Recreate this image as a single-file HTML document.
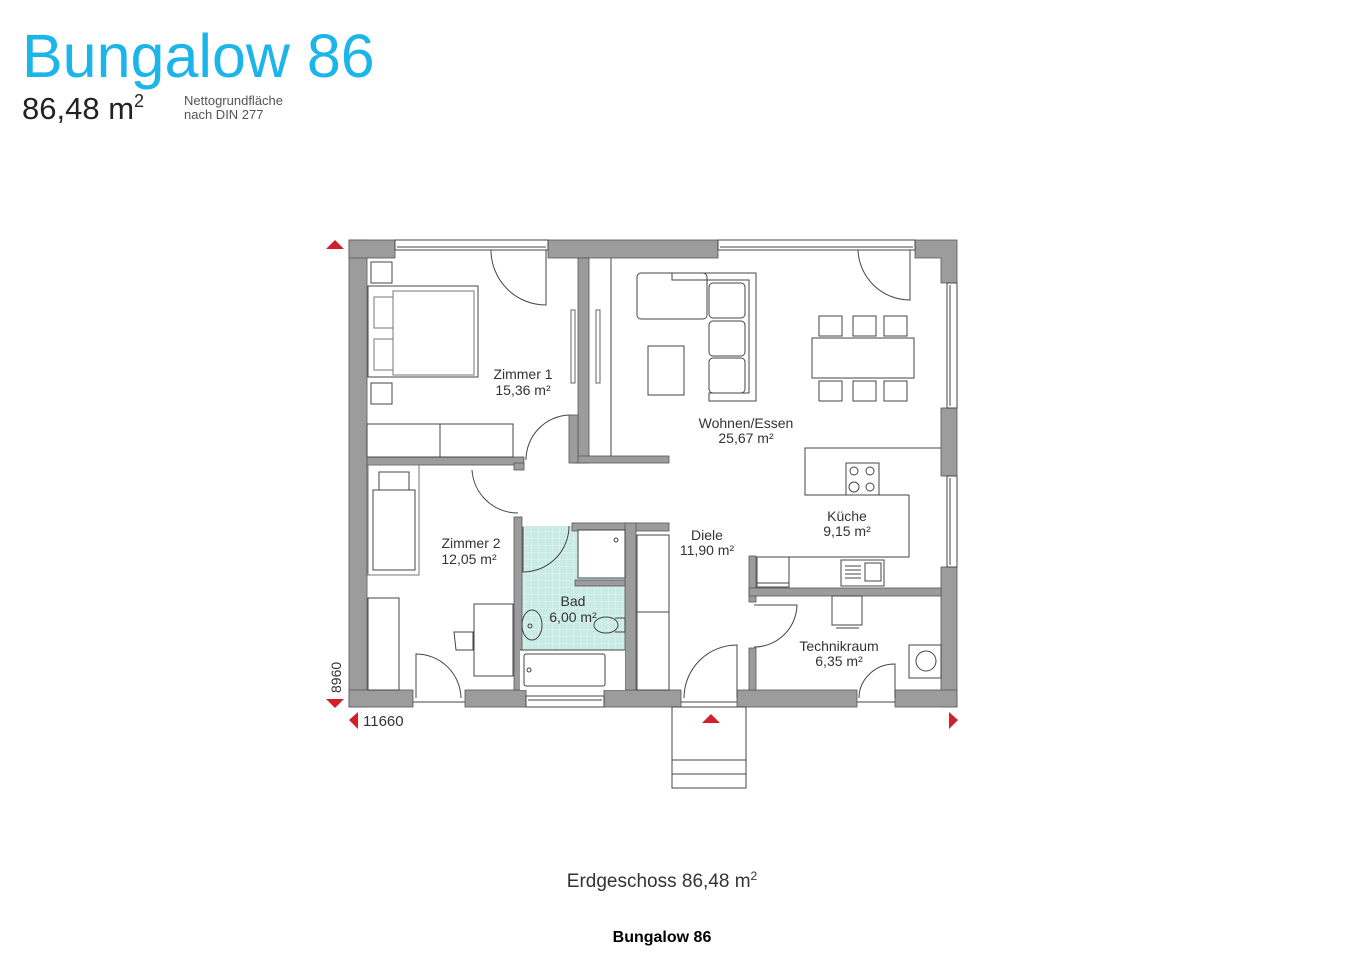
<!DOCTYPE html>
<html><head><meta charset="utf-8"><style>
html,body{margin:0;padding:0;background:#fff;width:1348px;height:956px;overflow:hidden}
svg{position:absolute;left:0;top:0}
</style></head><body>
<svg width="1348" height="956" viewBox="0 0 1348 956" xmlns="http://www.w3.org/2000/svg" font-family="Liberation Sans, sans-serif">
<defs>
<pattern id="tile" width="7" height="7" patternUnits="userSpaceOnUse">
<rect width="7" height="7" fill="#c9ebe6"/><path d="M7 0V7M0 7H7" stroke="#e6f6f3" stroke-width="1"/>
</pattern>
</defs>
<text x="22" y="77" font-size="61" fill="#1cb5ea">Bungalow 86</text>
<text x="22" y="119" font-size="31" fill="#222">86,48 m<tspan font-size="18" dy="-12">2</tspan></text>
<text x="184" y="105" font-size="13" fill="#555">Nettogrundfläche</text>
<text x="184" y="119" font-size="13" fill="#555">nach DIN 277</text>

<rect x="520" y="526" width="105" height="124" fill="url(#tile)"/>

<g fill="#9c9c9c" stroke="#555" stroke-width="0.8">
<rect x="349" y="240" width="18" height="467"/>
<rect x="349" y="240" width="46" height="18"/>
<rect x="548" y="240" width="170" height="18"/>
<path d="M915 240H957V283H941V258H915Z"/>
<rect x="941" y="408" width="16" height="68"/>
<rect x="941" y="567" width="16" height="140"/>
<rect x="349" y="690" width="64" height="17"/>
<rect x="465" y="690" width="61" height="17"/>
<rect x="604" y="690" width="77" height="17"/>
<rect x="737" y="690" width="120" height="17"/>
<rect x="895" y="690" width="62" height="17"/>
<rect x="578" y="258" width="11" height="205"/>
<rect x="572" y="456" width="97" height="7"/>
<rect x="569" y="415" width="9" height="48"/>
<rect x="367" y="457" width="157" height="8"/>
<rect x="514" y="463" width="10" height="7"/>
<rect x="514" y="517" width="8" height="173"/>
<rect x="572" y="523" width="97" height="8"/>
<rect x="625" y="523" width="11" height="167"/>
<rect x="575" y="580" width="50" height="6"/>
<rect x="749" y="556" width="7" height="46"/>
<rect x="749" y="588" width="192" height="8"/>
<rect x="749" y="648" width="7" height="42"/>
</g>

<g fill="none" stroke="#444" stroke-width="1">
<rect x="395" y="240" width="153" height="10"/><line x1="397" y1="247" x2="546" y2="247"/>
<rect x="718" y="240" width="197" height="10"/><line x1="720" y1="247" x2="913" y2="247"/>
<rect x="947" y="283" width="10" height="125"/><line x1="950" y1="285" x2="950" y2="406"/>
<rect x="947" y="476" width="10" height="91"/><line x1="950" y1="478" x2="950" y2="565"/>
<rect x="526" y="696" width="78" height="11"/><line x1="528" y1="700" x2="602" y2="700"/>
<line x1="413" y1="702" x2="465" y2="702"/><line x1="681" y1="702" x2="737" y2="702"/><line x1="857" y1="702" x2="895" y2="702"/>
<line x1="611" y1="258" x2="611" y2="456"/>
<rect x="571" y="310" width="4" height="73" stroke="#666"/>
<rect x="596" y="310" width="4" height="73" stroke="#666"/>
<rect x="672" y="707" width="74" height="81"/>
<line x1="672" y1="760" x2="746" y2="760"/><line x1="672" y1="774" x2="746" y2="774"/>

<path d="M546 250V305A55 55 0 0 1 491 250"/>
<path d="M910 250V300A52 52 0 0 1 858 250"/>
<path d="M569 415A45 45 0 0 0 526 460"/>
<path d="M518 513A46 46 0 0 1 472 470"/>
<path d="M523 527V572A46 46 0 0 0 569 526"/>
<path d="M416 698V654A45 45 0 0 1 461 698"/>
<path d="M737 698V645A53 53 0 0 0 684 698"/>
<path d="M754 605H797A43 43 0 0 1 754 647"/>
<path d="M895 698V664A36 34 0 0 0 859 698"/>

<rect x="371" y="262" width="21" height="21"/>
<rect x="371" y="383" width="21" height="21"/>
<rect x="368" y="286" width="110" height="91"/>
<rect x="393" y="291" width="81" height="84" stroke="#777"/>
<rect x="374" y="297" width="19" height="31" stroke="#777"/>
<rect x="374" y="339" width="19" height="31" stroke="#777"/>
<rect x="367" y="424" width="146" height="33"/><line x1="440" y1="424" x2="440" y2="457"/>

<rect x="368" y="465" width="51" height="110" stroke="#777"/>
<rect x="373" y="490" width="42" height="80"/>
<rect x="379" y="472" width="30" height="18"/>
<rect x="368" y="598" width="31" height="92"/>
<rect x="474" y="604" width="39" height="72"/>
<path d="M454 632H473V650H456Z"/>

<rect x="578" y="530" width="47" height="48" fill="#fff"/>
<circle cx="616" cy="540" r="2"/>
<rect x="520" y="650" width="105" height="40" fill="#fff" stroke="none"/>
<line x1="520" y1="650" x2="625" y2="650"/>
<rect x="524" y="654" width="81" height="32" rx="2"/>
<circle cx="529" cy="670" r="2"/>
<ellipse cx="532" cy="625" rx="10" ry="15"/><circle cx="530" cy="626" r="2"/>
<ellipse cx="606" cy="625" rx="12" ry="8"/><path d="M615 618H625V632H615"/>

<rect x="637" y="535" width="32" height="155"/><line x1="637" y1="612" x2="669" y2="612"/>

<path d="M672 273H756V401H709V393H749V280H672Z"/>
<rect x="637" y="273" width="70" height="46" rx="4"/>
<rect x="709" y="283" width="36" height="35" rx="4"/>
<rect x="709" y="321" width="36" height="35" rx="4"/>
<rect x="709" y="358" width="36" height="35" rx="4"/>
<rect x="648" y="346" width="36" height="49"/>
<rect x="812" y="338" width="102" height="40"/>
<rect x="819" y="316" width="23" height="20"/><rect x="853" y="316" width="23" height="20"/><rect x="884" y="316" width="23" height="20"/>
<rect x="819" y="381" width="23" height="20"/><rect x="853" y="381" width="23" height="20"/><rect x="884" y="381" width="23" height="20"/>

<path d="M941 448H805V495H909V557H757"/>
<rect x="846" y="463" width="33" height="32"/>
<circle cx="854" cy="471" r="4"/><circle cx="870" cy="471" r="4"/><circle cx="854" cy="487" r="5"/><circle cx="870" cy="487" r="4"/>
<rect x="757" y="557" width="32" height="30"/><line x1="757" y1="583" x2="789" y2="583"/>
<rect x="841" y="560" width="43" height="26"/><rect x="865" y="563" width="16" height="18"/>
<path d="M845 566H861M845 570H861M845 574H861M845 578H861"/>
<rect x="832" y="596" width="30" height="29"/><line x1="836" y1="628" x2="859" y2="628"/>
<rect x="909" y="645" width="32" height="33"/><circle cx="926" cy="661" r="10"/>
</g>

<g font-size="14" fill="#333" text-anchor="middle">
<text x="523" y="379">Zimmer 1</text><text x="523" y="395">15,36 m²</text>
<text x="471" y="548">Zimmer 2</text><text x="469" y="564">12,05 m²</text>
<text x="573" y="606">Bad</text><text x="573" y="622">6,00 m²</text>
<text x="746" y="428">Wohnen/Essen</text><text x="746" y="443">25,67 m²</text>
<text x="707" y="540">Diele</text><text x="707" y="555">11,90 m²</text>
<text x="847" y="521">Küche</text><text x="847" y="536">9,15 m²</text>
<text x="839" y="651">Technikraum</text><text x="839" y="666">6,35 m²</text>
</g>

<g fill="#d0202e">
<path d="M326 249L335 240L344 249Z"/>
<path d="M326 699L344 699L335 708Z"/>
<path d="M358 712V729L349 720Z"/>
<path d="M949 712V729L958 720Z"/>
<path d="M702 723L711 714L720 723Z"/>
</g>
<text x="341" y="693" font-size="14" fill="#333" transform="rotate(-90 341 693)">8960</text>
<text x="363" y="726" font-size="15" fill="#333">11660</text>

<text x="662" y="887" font-size="19" fill="#333" text-anchor="middle">Erdgeschoss 86,48 m<tspan font-size="12" dy="-7">2</tspan></text>
<text x="662" y="942" font-size="16" font-weight="bold" fill="#000" text-anchor="middle">Bungalow 86</text>
</svg>
</body></html>
